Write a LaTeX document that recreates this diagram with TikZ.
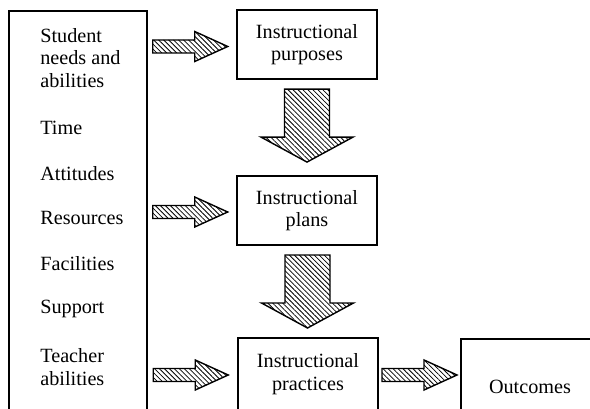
\documentclass[tikz,border=0pt]{standalone}
\usepackage{fontspec}
\setmainfont{Liberation Serif}
\usetikzlibrary{calc,patterns.meta}
\tikzset{
  box/.style={draw,line width=1pt,minimum width=2.8cm,align=center,inner sep=0pt},
  item/.style={anchor=west,align=left,inner sep=0pt},
  hatch/.style={draw,line width=.8pt,line join=miter,pattern={Lines[angle=-45,distance=2pt,line width=.45pt]}}
}
% hatched block arrows, centred at #1
\newcommand\rightblock[1]{\draw[hatch,shift={(#1)}] (-37.5,-6.5) -- (4.5,-6.5) -- (4.5,-15) -- (37.5,0)
  -- (4.5,15) -- (4.5,6.5) -- (-37.5,6.5) -- cycle;}
\newcommand\downblock[1]{\draw[hatch,shift={(#1)}] (-22.5,-36.5) -- (-22.5,11.5) -- (-46,11.5) -- (0,36.5)
  -- (46,11.5) -- (22.5,11.5) -- (22.5,-36.5) -- cycle;}
\begin{document}
\begin{tikzpicture}[x=.02cm,y=-.02cm,font=\fontsize{11.5}{12.8}\selectfont]
    \clip (0,0) rectangle (590,408);
    % left column
    \node[box,minimum width=2.76cm,minimum height=8.8cm] (factors) at (78,231) {};
    \node[item] (needs) at (40,58) {Student\\needs and\\abilities};
    \node[item] (time) at (40,128) {Time};
    \node[item] (attitudes) at (40,174) {Attitudes};
    \node[item] (resources) at (40,218) {Resources};
    \node[item] (facilities) at (40,264) {Facilities};
    \node[item] (support) at (40,309) {Support};
    \node[item] (teacher) at (40,367) {Teacher\\abilities};
    % boxes
    \node[box,minimum height=1.38cm] (purposes) at (307,44.5) {Instructional\\purposes};
    \node[box,minimum height=1.38cm] (plans) at (307,210.5) {Instructional\\plans};
    \node[box,minimum height=1.44cm] (practices) at (308,374) {Instructional\\practices};
    \node[box,minimum width=2.76cm,minimum height=1.92cm] (outcomes) at (530,387) {Outcomes};
    % arrows
    \rightblock{$(factors.east |- purposes.west)!.48!(purposes.west)+(0,2)$}
    \rightblock{$(factors.east |- plans.west)!.48!(plans.west)+(0,1.5)$}
    \rightblock{$(factors.east |- practices.west)!.48!(practices.west)+(0,1)$}
    \rightblock{$(practices.east)!.5!(outcomes.west |- practices.east)+(0,1)$}
    \downblock{$(purposes.south)!.48!(plans.north)$}
    \downblock{$(plans.south)!.5!(practices.north)$}
\end{tikzpicture}
\end{document}
